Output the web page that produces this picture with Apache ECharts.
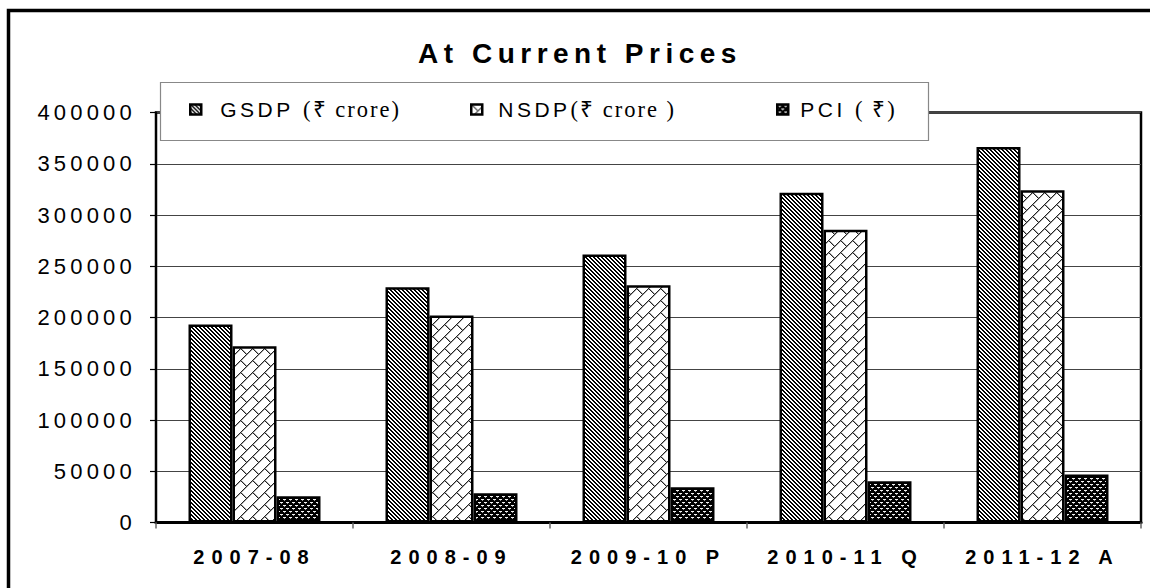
<!DOCTYPE html>
<html>
<head>
<meta charset="utf-8">
<script src="https://cdn.jsdelivr.net/npm/echarts@6/dist/echarts.min.js"></script>
<style>
html,body{margin:0;padding:0;background:#fff;}
#chart{width:1150px;height:588px;}
#chart text[style*="28px"]{letter-spacing:5.5px;}
#chart text[style*="22px"]{letter-spacing:4.2px;}
#chart text[style*="20px"]{letter-spacing:7px;}
#chart text[style*="21px"]{letter-spacing:3.5px;}
#chart text[style*="22.5px"]{letter-spacing:2px;}
</style>
</head>
<body>
<div id="chart"></div>
<script>
// ---- data ----
const titleText = 'At Current Prices';
const categories = ['2007-08', '2008-09', '2009-10 P', '2010-11 Q', '2011-12 A'];
const seriesNames = ['GSDP (₹ crore)', 'NSDP(₹ crore )', 'PCI ( ₹)'];
const gsdp = [193200, 229600, 261500, 321600, 366400];
const nsdp = [172000, 202000, 231500, 285500, 324200];
const pci  = [25700, 28600, 34400, 40300, 46800];
const yMin = 0, yMax = 400000, yStep = 50000;

// ---- fill patterns ----
function makeTile(w, h, bg, painter) {
  const c = document.createElement('canvas');
  c.width = w; c.height = h;
  const ctx = c.getContext('2d');
  ctx.fillStyle = bg; ctx.fillRect(0, 0, w, h);
  for (let y = 0; y < h; y++) {
    for (let x = 0; x < w; x++) {
      const col = painter(x, y);
      if (col) { ctx.fillStyle = col; ctx.fillRect(x, y, 1, 1); }
    }
  }
  return c;
}
const stripeTile = makeTile(4, 4, '#fff', (x, y) => {
  const m = (((x - y) % 4) + 4) % 4;
  return m < 2 ? '#000' : null;
});
const T = 12;
const brickTile = makeTile(T, T, '#fff', (x, y) => {
  const s = x + y;
  if (s % T === 0) return '#222';
  if (s % T === 1) return '#aaa';
  const k = Math.floor(s / T);
  const d = (((x - y - T * k) % (2 * T)) + 2 * T) % (2 * T);
  if (d === 0) return '#222';
  if (d === 1) return '#aaa';
  return null;
});
const dotTile = makeTile(6, 6, '#000', (x, y) => {
  if (y === 1 && x >= 1 && x <= 3) return '#f2f2f2';
  if (y === 2 && x === 2) return '#999';
  if (y === 4 && (x >= 4 || x === 0)) return '#f2f2f2';
  if (y === 5 && x === 5) return '#999';
  return null;
});
const patterns = [stripeTile, brickTile, dotTile];
const seriesData = [gsdp, nsdp, pci];

const legendLefts = [189, 470, 776];
const legendTextPad = [14, 11, 7];
const sansSpacing = 3.5;

const chart = echarts.init(document.getElementById('chart'), null, { renderer: 'svg' });
chart.setOption({
  animation: false,
  backgroundColor: '#fff',
  title: {
    text: titleText, left: 580, top: 39, textAlign: 'center', padding: 0,
    textStyle: { fontFamily: 'Liberation Sans', fontWeight: 'bold', fontSize: 28, color: '#000' }
  },
  graphic: [
    { type: 'rect', silent: true, z: 0, shape: { x: 8.5, y: 10.5, width: 1400, height: 900 },
      style: { fill: 'none', stroke: '#000', lineWidth: 3.5 } },
    { type: 'rect', silent: true, z: 100, shape: { x: 160.5, y: 82.5, width: 768, height: 58 },
      style: { fill: '#fff', stroke: '#888', lineWidth: 1.2 } }
  ],
  legend: seriesNames.map((n, i) => {
    const sansPart = n.slice(0, n.indexOf('('));
    return {
      data: [n], left: legendLefts[i], top: 98, padding: 0, z: 110,
      itemWidth: 11, itemHeight: 10, icon: 'rect', selectedMode: false,
      itemStyle: { borderColor: '#000', borderWidth: 2.5 },
      formatter: nm => {
        const p = nm.indexOf('(');
        return '{a|' + nm.slice(0, p) + '}{b|' + nm.slice(p) + '}';
      },
      textStyle: {
        rich: {
          a: { fontFamily: 'Liberation Sans', fontSize: 21, color: '#000',
               padding: [0, sansPart.length * sansSpacing, 0, legendTextPad[i]] },
          b: { fontFamily: 'Liberation Serif', fontSize: 22.5, color: '#000' }
        }
      }
    };
  }),
  grid: {
    left: 156, right: 9, top: 112.5, bottom: 65.5,
    show: true, borderColor: '#000', borderWidth: 2.5,
    containLabel: false, outerBoundsMode: 'none'
  },
  xAxis: {
    type: 'category', data: categories,
    axisLine: { lineStyle: { color: '#000', width: 3 } },
    axisTick: { show: true, length: 6, lineStyle: { color: '#666', width: 1.5 } },
    axisLabel: { interval: 0, margin: 24, fontFamily: 'Liberation Sans', fontWeight: 'bold', fontSize: 20, color: '#000' },
    splitLine: { show: false },
    z: 5
  },
  yAxis: {
    type: 'value', min: yMin, max: yMax, interval: yStep,
    axisLine: { show: true, lineStyle: { color: '#000', width: 2 } },
    axisTick: { show: true, length: 6, lineStyle: { color: '#000', width: 1.2 } },
    splitLine: { show: true, lineStyle: { color: '#444', width: 1 } },
    axisLabel: { margin: 20, fontFamily: 'Liberation Sans', fontSize: 22, color: '#000',
                 formatter: v => String(v) }
  },
  series: seriesData.map((d, i) => ({
    type: 'bar', name: seriesNames[i], data: d,
    barGap: '0%', barCategoryGap: '33%',
    itemStyle: { color: { image: patterns[i], repeat: 'repeat' }, borderColor: '#000', borderWidth: 2.5 },
    emphasis: { disabled: true }
  }))
});
</script>
</body>
</html>
